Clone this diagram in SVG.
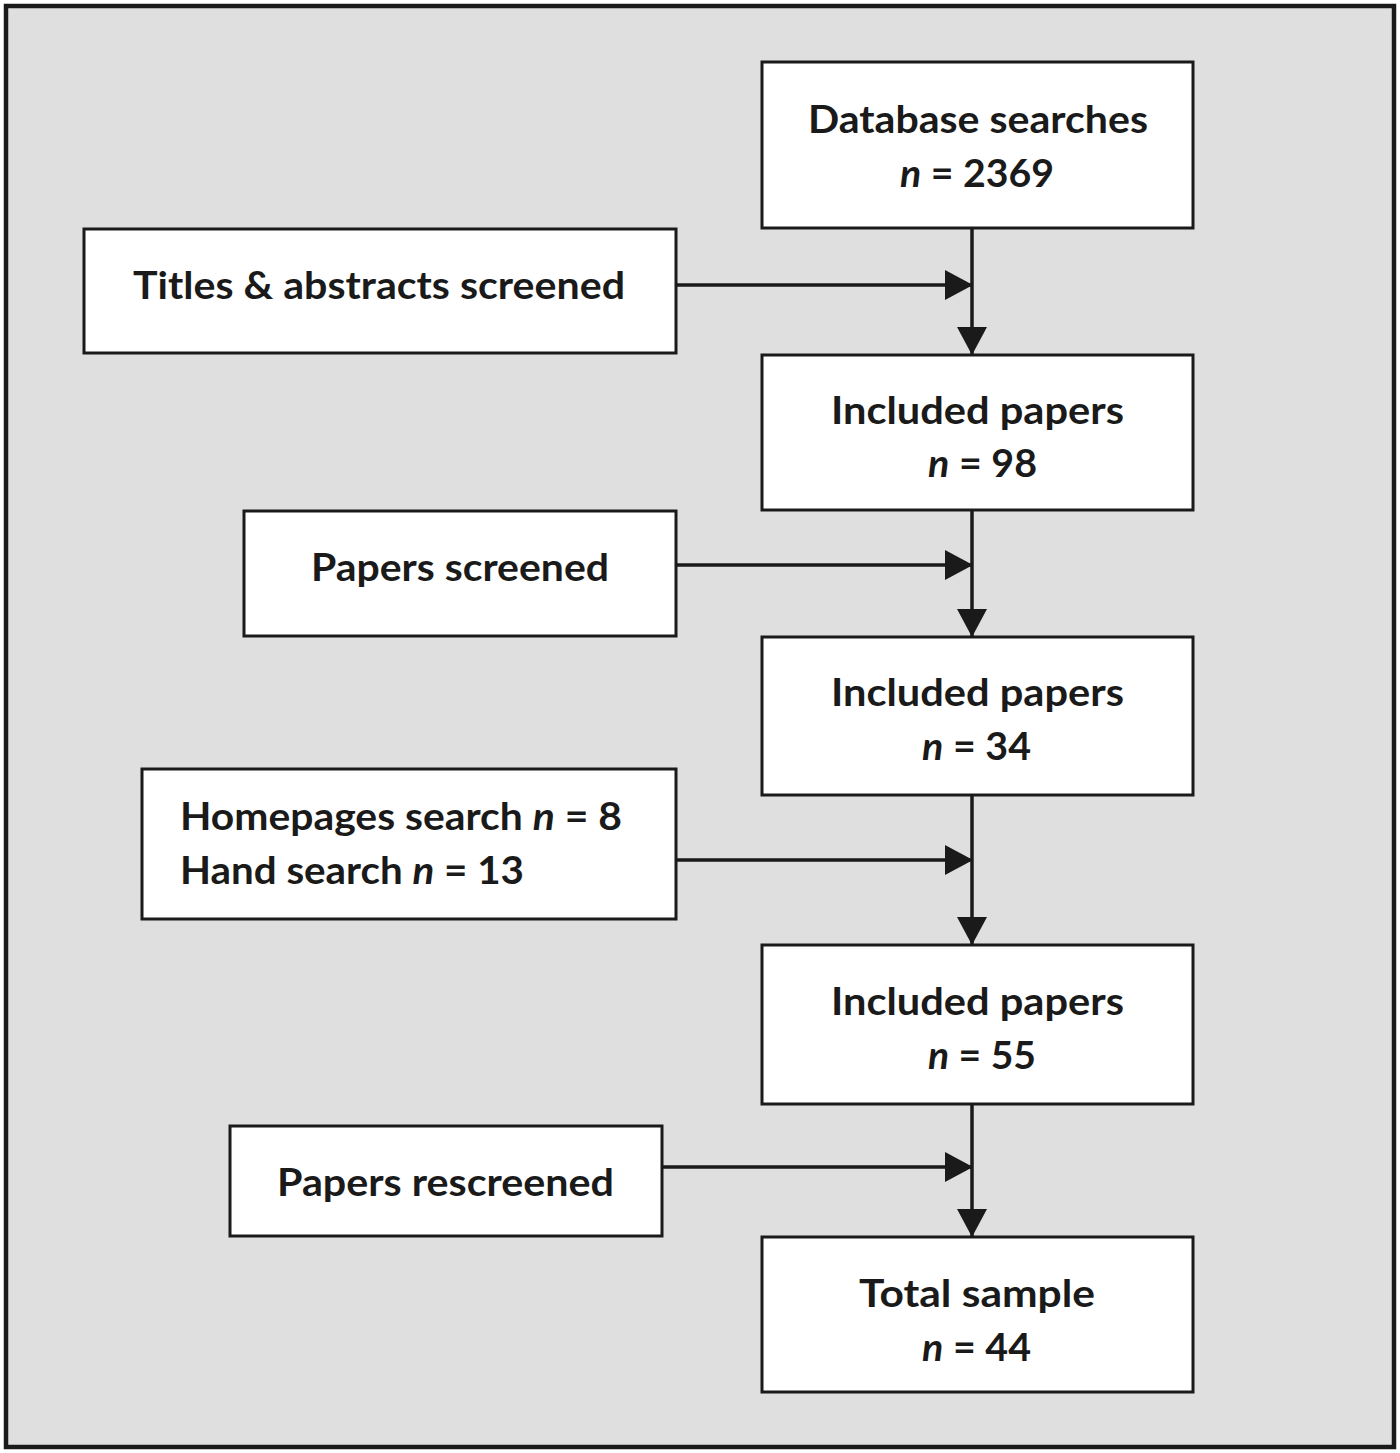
<svg xmlns="http://www.w3.org/2000/svg" width="1400" height="1453" viewBox="0 0 1400 1453">
<defs>
<style>
.bg{fill:#dfdfdf;stroke:#1a1a1a;stroke-width:4.5}
.box{fill:#ffffff;stroke:#1a1a1a;stroke-width:3}
.t{font-family:Lato,"Open Sans","Liberation Sans",sans-serif;font-weight:bold;font-size:38px;fill:#1a1a1a}
.t .i{font-style:italic}
.c{fill:none;stroke:#1a1a1a;stroke-width:3.5}
</style>
<marker id="ah" viewBox="0 0 28 30" refX="27" refY="15" markerWidth="28" markerHeight="30" markerUnits="userSpaceOnUse" orient="auto">
<path d="M0,0 L28,15 L0,30 Z" fill="#1a1a1a"/>
</marker>
</defs>
<rect class="bg" x="6" y="6" width="1388" height="1441"/>
<g id="connectors">
<line class="c" x1="972" y1="228" x2="972" y2="354" marker-end="url(#ah)"/>
<line class="c" x1="676" y1="285" x2="972" y2="285" marker-end="url(#ah)"/>
<line class="c" x1="972" y1="510" x2="972" y2="636" marker-end="url(#ah)"/>
<line class="c" x1="676" y1="565" x2="972" y2="565" marker-end="url(#ah)"/>
<line class="c" x1="972" y1="795" x2="972" y2="944" marker-end="url(#ah)"/>
<line class="c" x1="676" y1="860" x2="972" y2="860" marker-end="url(#ah)"/>
<line class="c" x1="972" y1="1104" x2="972" y2="1236" marker-end="url(#ah)"/>
<line class="c" x1="662" y1="1167" x2="972" y2="1167" marker-end="url(#ah)"/>
</g>
<g id="n1"><rect class="box" x="762" y="62" width="431" height="166"/>
<text class="t" x="808" y="133" textLength="340" lengthAdjust="spacingAndGlyphs">Database searches</text>
<text class="t" x="900" y="187" textLength="154" lengthAdjust="spacingAndGlyphs"><tspan class="i">n</tspan> = 2369</text></g>
<g id="n2"><rect class="box" x="84" y="229" width="592" height="124"/>
<text class="t" x="133" y="299" textLength="492" lengthAdjust="spacingAndGlyphs">Titles &amp; abstracts screened</text></g>
<g id="n3"><rect class="box" x="762" y="355" width="431" height="155"/>
<text class="t" x="831" y="424" textLength="293" lengthAdjust="spacingAndGlyphs">Included papers</text>
<text class="t" x="928" y="477" textLength="109" lengthAdjust="spacingAndGlyphs"><tspan class="i">n</tspan> = 98</text></g>
<g id="n4"><rect class="box" x="244" y="511" width="432" height="125"/>
<text class="t" x="311" y="581" textLength="298" lengthAdjust="spacingAndGlyphs">Papers screened</text></g>
<g id="n5"><rect class="box" x="762" y="637" width="431" height="158"/>
<text class="t" x="831" y="706" textLength="293" lengthAdjust="spacingAndGlyphs">Included papers</text>
<text class="t" x="922" y="760" textLength="109" lengthAdjust="spacingAndGlyphs"><tspan class="i">n</tspan> = 34</text></g>
<g id="n6"><rect class="box" x="142" y="769" width="534" height="150"/>
<text class="t" x="180" y="830" textLength="442" lengthAdjust="spacingAndGlyphs">Homepages search <tspan class="i">n</tspan> = 8</text>
<text class="t" x="180" y="884" textLength="344" lengthAdjust="spacingAndGlyphs">Hand search <tspan class="i">n</tspan> = 13</text></g>
<g id="n7"><rect class="box" x="762" y="945" width="431" height="159"/>
<text class="t" x="831" y="1015" textLength="293" lengthAdjust="spacingAndGlyphs">Included papers</text>
<text class="t" x="928" y="1069" textLength="108" lengthAdjust="spacingAndGlyphs"><tspan class="i">n</tspan> = 55</text></g>
<g id="n8"><rect class="box" x="230" y="1126" width="432" height="110"/>
<text class="t" x="277" y="1196" textLength="337" lengthAdjust="spacingAndGlyphs">Papers rescreened</text></g>
<g id="n9"><rect class="box" x="762" y="1237" width="431" height="155"/>
<text class="t" x="859" y="1307" textLength="236" lengthAdjust="spacingAndGlyphs">Total sample</text>
<text class="t" x="922" y="1361" textLength="109" lengthAdjust="spacingAndGlyphs"><tspan class="i">n</tspan> = 44</text></g>
</svg>
